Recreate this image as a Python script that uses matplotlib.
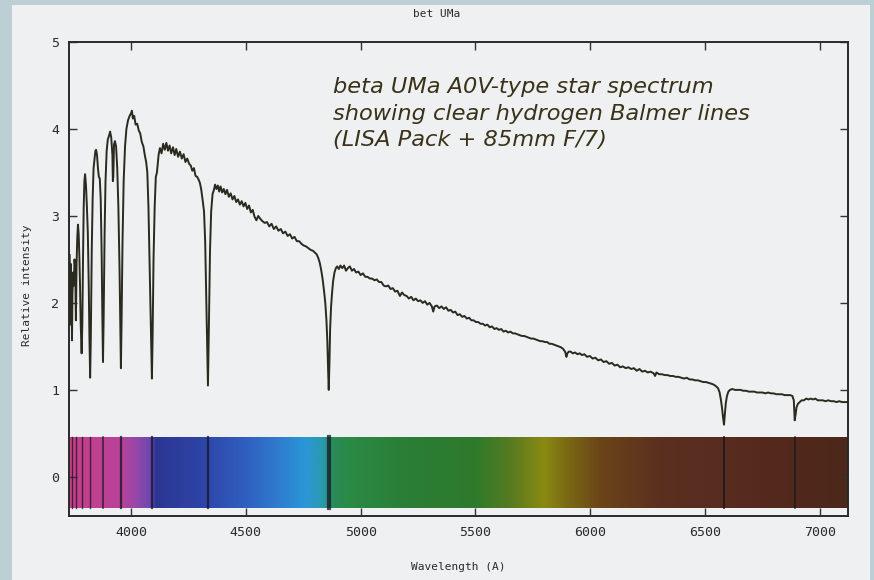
import matplotlib
matplotlib.use("Agg")
import matplotlib.pyplot as plt
from matplotlib.colors import LinearSegmentedColormap
from matplotlib.patches import Rectangle
import numpy as np

# ---------------- data ----------------
wave = [3733, 3735, 3737, 3739, 3741, 3743, 3745, 3748, 3751, 3754, 3757, 3760, 3763, 3766,
        3769, 3772, 3775, 3778, 3781, 3785, 3788, 3791, 3794, 3797, 3800, 3804, 3808, 3812,
        3816, 3819, 3822, 3825, 3829, 3833, 3837, 3841, 3845, 3848, 3852, 3856, 3860, 3864,
        3868, 3872, 3875, 3878, 3881, 3885, 3889, 3894, 3899, 3904, 3909, 3914, 3919, 3921,
        3923, 3926, 3930, 3935, 3940, 3945, 3950, 3953, 3956, 3959, 3963, 3968, 3974, 3980,
        3987, 3994, 4000, 4004, 4008, 4014, 4020, 4027, 4034, 4040, 4047, 4054, 4060, 4066,
        4071, 4076, 4080, 4084, 4088, 4091, 4094, 4098, 4103, 4108, 4113, 4120, 4126, 4133,
        4140, 4147, 4154, 4161, 4168, 4175, 4183, 4190, 4197, 4205, 4213, 4221, 4229, 4237,
        4245, 4253, 4260, 4267, 4274, 4281, 4288, 4294, 4300, 4306, 4312, 4318, 4323, 4327,
        4331, 4335, 4339, 4344, 4349, 4355, 4361, 4366, 4372, 4378, 4384, 4390, 4397, 4404,
        4411, 4418, 4426, 4434, 4442, 4450, 4458, 4466, 4474, 4482, 4490, 4498, 4506, 4514,
        4522, 4530, 4538, 4546, 4554, 4562, 4572, 4582, 4592, 4602, 4612, 4622, 4632, 4642,
        4652, 4662, 4672, 4682, 4692, 4702, 4712, 4722, 4732, 4742, 4752, 4762, 4772, 4782,
        4792, 4800, 4808, 4815, 4822, 4828, 4834, 4840, 4846, 4851, 4855, 4858, 4861, 4864,
        4867, 4871, 4875, 4880, 4886, 4892, 4898, 4905, 4912, 4920, 4928, 4936, 4944, 4953,
        4962, 4971, 4980, 4990, 5000, 5010, 5020, 5030, 5040, 5050, 5060, 5070, 5080, 5090,
        5100, 5110, 5120, 5130, 5140, 5150, 5160, 5171, 5180, 5190, 5200, 5210, 5220, 5230,
        5240, 5250, 5260, 5270, 5280, 5290, 5300, 5310, 5316, 5322, 5332, 5342, 5352, 5362,
        5372, 5382, 5392, 5402, 5412, 5422, 5432, 5442, 5452, 5462, 5472, 5482, 5492, 5502,
        5512, 5522, 5532, 5542, 5552, 5562, 5572, 5582, 5592, 5602, 5612, 5622, 5632, 5642,
        5652, 5662, 5672, 5682, 5692, 5702, 5712, 5722, 5732, 5742, 5752, 5762, 5772, 5782,
        5792, 5802, 5812, 5822, 5832, 5842, 5852, 5862, 5872, 5882, 5890, 5896, 5900, 5906,
        5914, 5924, 5934, 5944, 5954, 5964, 5974, 5986, 5998, 6010, 6022, 6034, 6046, 6058,
        6070, 6082, 6094, 6106, 6118, 6130, 6142, 6154, 6166, 6178, 6190, 6202, 6214, 6226,
        6238, 6250, 6262, 6276, 6282, 6288, 6300, 6312, 6324, 6336, 6348, 6360, 6372, 6384,
        6396, 6408, 6420, 6432, 6444, 6456, 6468, 6480, 6492, 6504, 6516, 6528, 6538, 6548,
        6556, 6563, 6569, 6574, 6578, 6582, 6586, 6590, 6595, 6601, 6608, 6618, 6630, 6642,
        6654, 6666, 6678, 6690, 6702, 6714, 6726, 6738, 6750, 6762, 6774, 6786, 6798, 6810,
        6822, 6834, 6846, 6858, 6870, 6880, 6886, 6890, 6894, 6898, 6904, 6912, 6920, 6930,
        6940, 6950, 6960, 6970, 6980, 6990, 7000, 7012, 7024, 7036, 7048, 7060, 7072, 7084,
        7096, 7108, 7120]

flux = [2.55, 1.75, 2.45, 2.00, 2.30, 1.57, 2.10, 2.35, 2.20, 2.50, 2.40, 1.80, 2.45, 2.75,
        2.90, 2.80, 2.55, 2.20, 1.75, 1.42, 1.75, 2.50, 3.10, 3.40, 3.48, 3.35, 3.10, 2.80,
        2.20, 1.60, 1.14, 1.60, 2.60, 3.20, 3.55, 3.65, 3.75, 3.76, 3.70, 3.55, 3.45, 3.43,
        3.20, 2.60, 1.90, 1.32, 1.85, 2.80, 3.40, 3.75, 3.88, 3.92, 3.97, 3.90, 3.70, 3.40,
        3.45, 3.82, 3.86, 3.80, 3.55, 3.10, 2.40, 1.80, 1.25, 1.80, 2.70, 3.40, 3.80, 4.00,
        4.10, 4.15, 4.18, 4.21, 4.12, 4.15, 4.05, 4.06, 3.98, 3.95, 3.85, 3.80, 3.70, 3.62,
        3.50, 3.10, 2.55, 2.05, 1.55, 1.13, 1.60, 2.50, 3.10, 3.45, 3.50, 3.70, 3.78, 3.72,
        3.83, 3.76, 3.84, 3.75, 3.81, 3.72, 3.79, 3.70, 3.77, 3.68, 3.74, 3.66, 3.71, 3.62,
        3.66, 3.60, 3.58, 3.52, 3.55, 3.46, 3.45, 3.42, 3.38, 3.30, 3.18, 3.05, 2.70, 2.14,
        1.60, 1.05, 1.70, 2.60, 3.05, 3.25, 3.30, 3.36, 3.31, 3.35, 3.28, 3.34, 3.27, 3.31,
        3.25, 3.30, 3.22, 3.26, 3.19, 3.23, 3.16, 3.19, 3.13, 3.17, 3.11, 3.15, 3.08, 3.12,
        3.04, 3.07, 2.99, 2.95, 3.00, 2.97, 2.94, 2.92, 2.93, 2.88, 2.91, 2.85, 2.88, 2.83,
        2.85, 2.80, 2.82, 2.77, 2.79, 2.74, 2.76, 2.71, 2.71, 2.68, 2.66, 2.65, 2.63, 2.61,
        2.60, 2.58, 2.56, 2.52, 2.46, 2.38, 2.28, 2.15, 2.00, 1.80, 1.55, 1.25, 1.00, 1.30,
        1.70, 1.95, 2.10, 2.25, 2.35, 2.40, 2.42, 2.39, 2.43, 2.40, 2.43, 2.37, 2.40, 2.42,
        2.37, 2.39, 2.35, 2.36, 2.32, 2.34, 2.30, 2.30, 2.28, 2.28, 2.26, 2.27, 2.24, 2.24,
        2.20, 2.19, 2.20, 2.16, 2.17, 2.13, 2.14, 2.08, 2.12, 2.09, 2.08, 2.05, 2.07, 2.03,
        2.05, 2.02, 2.03, 2.00, 2.02, 1.98, 2.00, 1.96, 1.90, 1.96, 1.97, 1.94, 1.96, 1.93,
        1.95, 1.91, 1.92, 1.89, 1.90, 1.86, 1.87, 1.84, 1.85, 1.82, 1.83, 1.80, 1.80, 1.78,
        1.78, 1.76, 1.76, 1.74, 1.75, 1.72, 1.73, 1.70, 1.71, 1.69, 1.70, 1.67, 1.68, 1.66,
        1.67, 1.65, 1.65, 1.64, 1.63, 1.62, 1.62, 1.61, 1.60, 1.59, 1.59, 1.58, 1.57, 1.56,
        1.56, 1.55, 1.55, 1.53, 1.53, 1.52, 1.51, 1.50, 1.49, 1.47, 1.44, 1.38, 1.42, 1.44,
        1.44, 1.42, 1.43, 1.41, 1.42, 1.40, 1.41, 1.38, 1.39, 1.36, 1.37, 1.34, 1.35, 1.32,
        1.33, 1.30, 1.31, 1.28, 1.29, 1.26, 1.27, 1.25, 1.26, 1.24, 1.25, 1.22, 1.24, 1.21,
        1.22, 1.20, 1.21, 1.19, 1.16, 1.20, 1.18, 1.18, 1.17, 1.17, 1.16, 1.16, 1.15, 1.15,
        1.14, 1.13, 1.14, 1.12, 1.12, 1.11, 1.11, 1.10, 1.09, 1.09, 1.08, 1.07, 1.06, 1.04,
        1.02, 0.97, 0.88, 0.78, 0.68, 0.60, 0.72, 0.85, 0.93, 0.98, 1.00, 1.01, 1.00, 1.00,
        1.00, 0.99, 0.99, 0.98, 0.98, 0.98, 0.97, 0.97, 0.97, 0.96, 0.97, 0.96, 0.96, 0.95,
        0.95, 0.95, 0.94, 0.94, 0.94, 0.93, 0.88, 0.65, 0.72, 0.80, 0.84, 0.86, 0.88, 0.88,
        0.90, 0.89, 0.90, 0.89, 0.90, 0.88, 0.88, 0.88, 0.87, 0.88, 0.87, 0.87, 0.86, 0.87,
        0.86, 0.86, 0.86]

# colour stops of the synthetic spectrum strip (wavelength, colour)
band_wave = [3730, 3950, 4010, 4080, 4100, 4300, 4500, 4650, 4760, 4830, 4880, 4950,
             5200, 5500, 5650, 5800, 5900, 6050, 6300, 6700, 7125]
band_color = ["#c6408a", "#b8429a", "#9a46a8", "#6a48b0", "#2c3592", "#2e44a6", "#3060c0",
              "#2f7fd0", "#2a98d6", "#2a9ab0", "#2a8a58", "#2a8a44", "#2a7e36", "#2e7a2c",
              "#567a20", "#8a8a12", "#7a6a14", "#6a4418", "#5c3020", "#562a1e", "#4c281a"]
# dark absorption lines shown in the strip
band_lines = [3743, 3760, 3785, 3822, 3878, 3956, 4091, 4335, 4861, 6582, 6890]
band_line_w = [1.0, 1.0, 1.0, 1.0, 1.2, 1.6, 1.6, 1.6, 3.0, 1.4, 1.2]

x_ticks = [4000, 4500, 5000, 5500, 6000, 6500, 7000]
y_ticks = [0, 1, 2, 3, 4, 5]

title = "bet UMa"
xlabel = "Wavelength (A)"
ylabel = "Relative intensity"
note = "beta UMa A0V-type star spectrum\nshowing clear hydrogen Balmer lines\n(LISA Pack + 85mm F/7)"

# ---------------- figure ----------------
W, H = 874, 580
fig = plt.figure(figsize=(W / 100, H / 100), dpi=100)
fig.patch.set_facecolor("#bccfd5")
# scanned-page paper area
fig.add_artist(Rectangle((12 / W, 0), (W - 16) / W, (H - 5) / H, transform=fig.transFigure,
                         facecolor="#eef0f2", edgecolor="none", zorder=0))

ax = fig.add_axes([69 / W, 1 - 516 / H, (848 - 69) / W, (516 - 42) / H])
ax.set_facecolor("#eef0f2")

xmin, xmax = 3730, 7122
ymin, ymax = -0.45, 5.0

# spectrum strip
cmap = LinearSegmentedColormap.from_list(
    "strip", [((w - band_wave[0]) / (band_wave[-1] - band_wave[0]), c)
              for w, c in zip(band_wave, band_color)])
grad = np.linspace(band_wave[0], band_wave[-1], 1200)[None, :]
ax.imshow(grad, cmap=cmap, aspect="auto", extent=[band_wave[0], band_wave[-1], -0.355, 0.46],
          origin="lower", zorder=1, interpolation="bilinear")
for lw_, w in zip(band_line_w, band_lines):
    ax.plot([w, w], [-0.355, 0.46], color="#151520", lw=lw_, alpha=0.75, zorder=2)

ax.plot(wave, flux, color="#2a2a1e", lw=1.4, zorder=3)

ax.set_xlim(xmin, xmax)
ax.set_ylim(ymin, ymax)
ax.set_xticks(x_ticks)
ax.set_yticks(y_ticks)

mono = "DejaVu Sans Mono"
ax.set_xticklabels([str(t) for t in x_ticks], family=mono, fontsize=9.5, color="#2a2a2a")
ax.set_yticklabels([str(t) for t in y_ticks], family=mono, fontsize=9.5, color="#2a2a2a")
ax.tick_params(direction="in", length=6, width=1, top=True, right=True, color="#333333",
               pad=7)
for s in ax.spines.values():
    s.set_linewidth(1.4)
    s.set_color("#2a2a2a")

fig.text(0.5, 1 - 14 / H, title, ha="center", va="center", family=mono, fontsize=8,
         color="#2a2a2a")
fig.text((69 + 848) / 2 / W, 1 - 567 / H, xlabel, ha="center", va="center", family=mono,
         fontsize=8, color="#2a2a2a")
fig.text(27 / W, 1 - 285 / H, ylabel, ha="center", va="center", rotation=90, family=mono,
         fontsize=8, color="#2a2a2a")

ax.text((333 - 69) / (848 - 69), (516 - 77) / (516 - 42), note, transform=ax.transAxes,
        ha="left", va="top", fontsize=16.2, style="italic", family="DejaVu Sans",
        color="#3a3218", linespacing=1.42, zorder=4)

fig.savefig("out.png", dpi=100, facecolor=fig.get_facecolor())
